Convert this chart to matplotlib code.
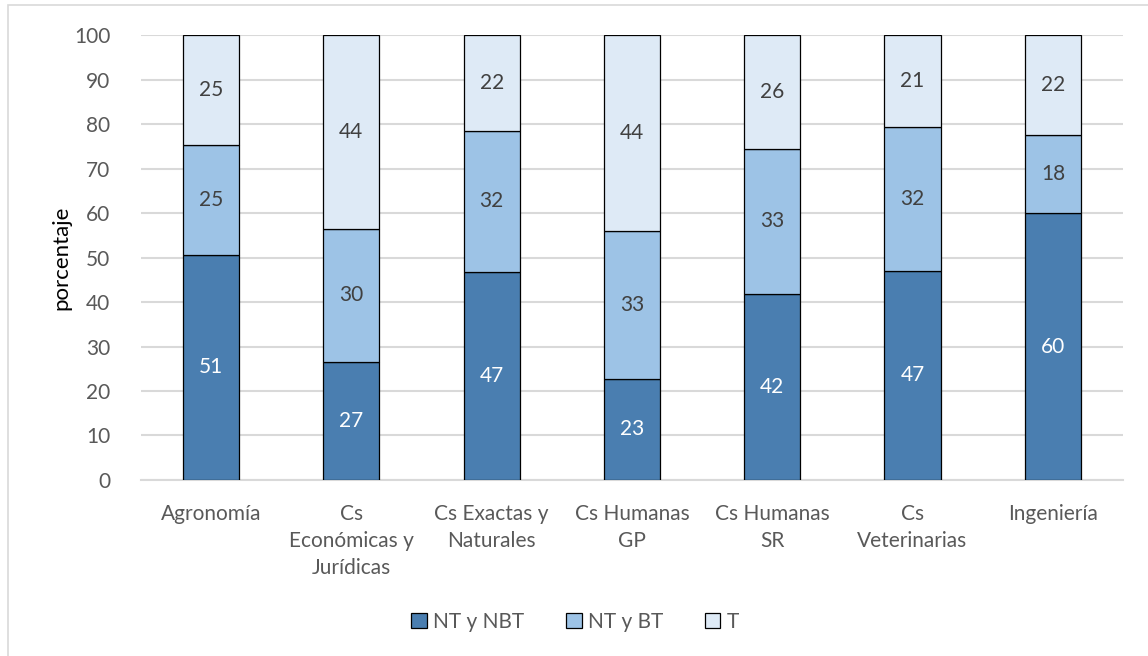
import matplotlib.pyplot as plt
from matplotlib.patches import Rectangle
import numpy as np

# Datos (porcentajes)
carreras = ['Agronomía', 'Cs\nEconómicas y\nJurídicas', 'Cs Exactas y\nNaturales',
            'Cs Humanas\nGP', 'Cs Humanas\nSR', 'Cs\nVeterinarias', 'Ingeniería']
nt_nbt = [50.6, 26.6, 46.8, 22.8, 41.8, 47.0, 60.0]
nt_bt = [24.7, 29.8, 31.6, 33.1, 32.6, 32.3, 17.6]
t = [24.7, 43.6, 21.6, 44.1, 25.6, 20.7, 22.4]

series = ['NT y NBT', 'NT y BT', 'T']
colores = ['#4A7EB0', '#9DC3E6', '#DEEAF6']
color_texto = ['white', '#404040', '#404040']

plt.rcParams['font.family'] = ['Lato', 'DejaVu Sans']

fig = plt.figure(figsize=(11.48, 6.56), dpi=100)
ax = fig.add_axes([0.1228, 0.2683, 0.8554, 0.6783])

# Borde del area del grafico
fig.patches.append(Rectangle((8 / 1148, -0.1), 1.2, 1.1 - 5 / 656,
                             transform=fig.transFigure, fill=False,
                             edgecolor='#D9D9D9', linewidth=1.2))

x = np.arange(len(carreras))
base = np.zeros(len(carreras))
for nombre, valores, color, ctexto in zip(series, [nt_nbt, nt_bt, t], colores, color_texto):
    valores = np.array(valores)
    ax.bar(x, valores, width=0.4, bottom=base, color=color,
           edgecolor='black', linewidth=0.9, label=nombre, zorder=3)
    for xi, b, v in zip(x, base, valores):
        ax.text(xi, b + v / 2, f'{v:.0f}', ha='center', va='center',
                fontsize=15, color=ctexto, zorder=4)
    base = base + valores

ax.set_xlim(-0.5, 6.5)
ax.set_ylim(0, 100)
ax.set_yticks(range(0, 101, 10))
ax.set_xticks(x)
ax.set_xticklabels(carreras, fontsize=15, color='#595959', linespacing=1.45)
ax.tick_params(axis='y', labelsize=15, labelcolor='#595959', length=0, pad=22)
ax.tick_params(axis='x', length=0, pad=17)
ax.grid(axis='y', color='#D9D9D9', linewidth=1.5, zorder=0)
for lado in ['top', 'right', 'left']:
    ax.spines[lado].set_visible(False)
ax.spines['bottom'].set_color('#D9D9D9')
ax.spines['bottom'].set_linewidth(1.5)

ax.set_ylabel('porcentaje', fontsize=16, color='black', labelpad=2)

fig.legend(loc='center', bbox_to_anchor=(575 / 1148, 1 - 622 / 656), ncol=3,
           frameon=False, fontsize=15, handlelength=0.75, handleheight=0.75,
           handletextpad=0.3, columnspacing=2.0, labelcolor='#595959')

plt.savefig('out.png', dpi=100)
